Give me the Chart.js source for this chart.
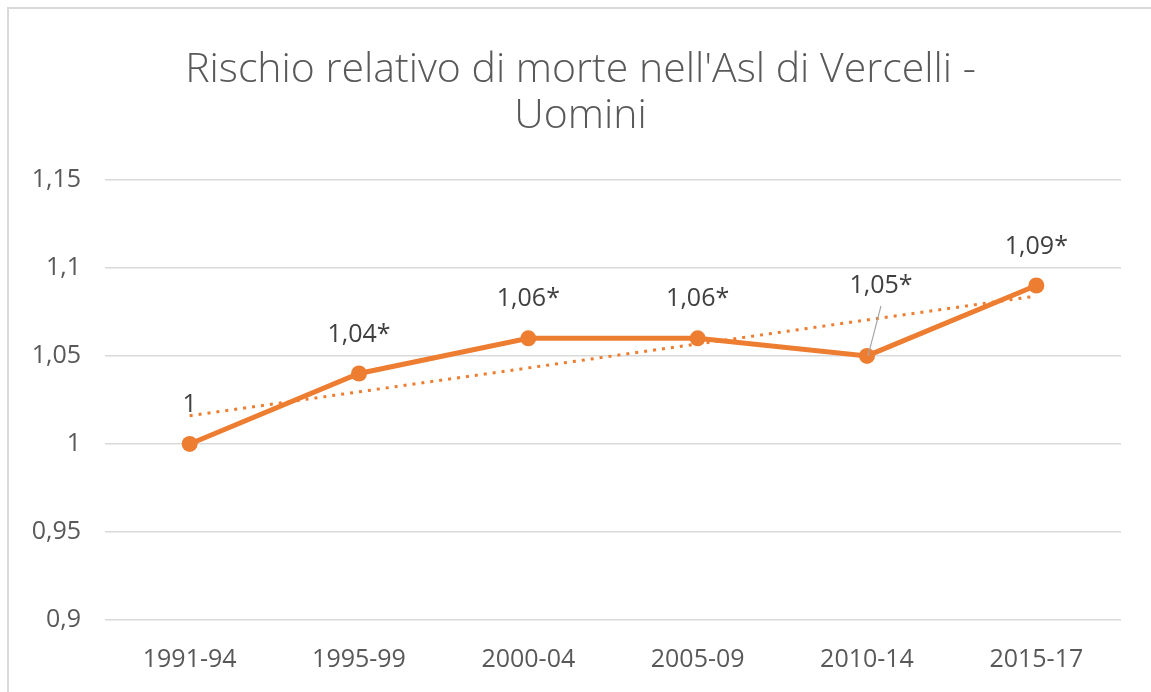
<!DOCTYPE html>
<html>
<head>
<meta charset="utf-8">
<script src="https://cdn.jsdelivr.net/npm/chart.js@4/dist/chart.umd.min.js"></script>
<style>
  html, body { margin: 0; padding: 0; background: #ffffff; }
  #wrap { position: relative; width: 1151px; height: 692px; overflow: hidden; }
  #frame { position: absolute; left: 7px; top: 7px; right: -5px; bottom: -5px;
           border-top: 2px solid #d9d9d9; border-left: 2px solid #d9d9d9; pointer-events: none; }
  canvas { position: absolute; left: 0; top: 0; }
</style>
</head>
<body>
<div id="wrap">
  <canvas id="c" width="1151" height="692"></canvas>
  <div id="frame"></div>
</div>
<script>
const categories = ['1991-94', '1995-99', '2000-04', '2005-09', '2010-14', '2015-17'];
const values = [1.00, 1.04, 1.06, 1.06, 1.05, 1.09];
const valueLabels = ['1', '1,04*', '1,06*', '1,06*', '1,05*', '1,09*'];
// linear trend line (start and end points)
const trendValues = [1.016, null, null, null, null, 1.084];
const yTicks = [0.9, 0.95, 1, 1.05, 1.1, 1.15];
const titleLines = ["Rischio relativo di morte nell'Asl di Vercelli -", 'Uomini'];

const ORANGE = '#ED7D31';

const labelPlugin = {
  id: 'valueLabels',
  afterDatasetsDraw(chart, args, opts) {
    const ctx = chart.ctx;
    const meta = chart.getDatasetMeta(0);
    ctx.save();
    ctx.font = opts.font;
    ctx.fillStyle = opts.color;
    ctx.textAlign = 'center';
    ctx.textBaseline = 'middle';
    meta.data.forEach((pt, i) => {
      const off = (opts.offsets && opts.offsets[i]) || [0, opts.defaultDy];
      const lx = pt.x + off[0];
      const ly = pt.y + off[1];
      if (opts.leaders && opts.leaders[i]) {
        ctx.strokeStyle = '#a6a6a6';
        ctx.lineWidth = 1.2;
        ctx.beginPath();
        ctx.moveTo(lx, ly + 20);
        ctx.lineTo(pt.x + 1, pt.y);
        ctx.stroke();
      }
      ctx.fillText(valueLabels[i], lx, ly);
    });
    ctx.restore();
  }
};

new Chart(document.getElementById('c'), {
  type: 'line',
  data: {
    labels: categories,
    datasets: [
      {
        data: values,
        borderColor: ORANGE,
        backgroundColor: ORANGE,
        borderWidth: 5,
        pointRadius: 8,
        pointBackgroundColor: ORANGE,
        pointBorderColor: ORANGE,
        pointBorderWidth: 0,
        tension: 0,
        order: 1
      },
      {
        data: trendValues,
        borderColor: ORANGE,
        borderWidth: 3,
        borderDash: [3, 6],
        pointRadius: 0,
        spanGaps: true,
        tension: 0,
        order: 2
      }
    ]
  },
  options: {
    responsive: false,
    animation: false,
    layout: { padding: { left: 20, right: 10, top: 0, bottom: 0 } },
    plugins: {
      legend: { display: false },
      tooltip: { enabled: false },
      title: {
        display: true,
        text: titleLines,
        color: '#595959',
        font: { family: 'Open Sans', size: 41, weight: '300', lineHeight: 1.12 },
        padding: { top: 47, bottom: 41 }
      },
      valueLabels: {
        font: '25px "Open Sans"',
        color: '#404040',
        defaultDy: -39,
        offsets: { 4: [14, -70] },
        leaders: { 4: true }
      }
    },
    scales: {
      x: {
        offset: true,
        grid: { display: false, drawTicks: false },
        border: { display: false },
        ticks: { color: '#595959', font: { family: 'Open Sans', size: 25 }, padding: 25 },
        afterFit(s) { s.height = 72; }
      },
      y: {
        min: 0.9,
        max: 1.15,
        afterBuildTicks(s) { s.ticks = yTicks.map(v => ({ value: v })); },
        grid: { color: '#d9d9d9', lineWidth: 1.5, drawTicks: false },
        border: { display: false },
        ticks: {
          color: '#595959',
          font: { family: 'Open Sans', size: 25 },
          padding: 24,
          callback: v => String(v).replace('.', ',')
        },
        afterFit(s) { s.width = 85; }
      },
      yRight: {
        position: 'right',
        min: 0.9,
        max: 1.15,
        grid: { display: false, drawTicks: false },
        border: { display: false },
        ticks: { display: false },
        afterFit(s) { s.width = 20; }
      }
    }
  },
  plugins: [labelPlugin]
});
</script>
</body>
</html>
